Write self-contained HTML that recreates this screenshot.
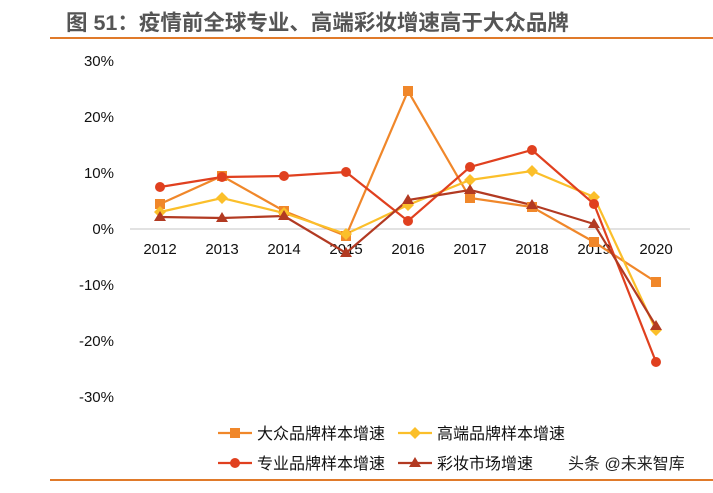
<!DOCTYPE html>
<html><head><meta charset="utf-8"><style>
body{margin:0;background:#fff;width:713px;height:488px;overflow:hidden;font-family:"Liberation Sans","Noto Sans CJK SC",sans-serif}
</style></head><body>
<svg width="713" height="488" viewBox="0 0 713 488" xmlns="http://www.w3.org/2000/svg" font-family="Liberation Sans, Noto Sans CJK SC, sans-serif">
<text x="66" y="30" font-size="21.5" font-weight="bold" fill="#555">图 51：疫情前全球专业、高端彩妆增速高于大众品牌</text>
<rect x="50" y="37" width="663" height="2" fill="#e07a2a"/>
<g font-size="15" fill="#111" text-anchor="end">
<text x="114" y="66">30%</text><text x="114" y="122">20%</text><text x="114" y="178">10%</text><text x="114" y="234">0%</text>
<text x="114" y="290">-10%</text><text x="114" y="346">-20%</text><text x="114" y="402">-30%</text>
</g>
<line x1="130" y1="229" x2="690" y2="229" stroke="#d0d0d0" stroke-width="1.2"/>
<g font-size="15" fill="#111" text-anchor="middle">
<text x="160" y="254">2012</text><text x="222" y="254">2013</text><text x="284" y="254">2014</text><text x="346" y="254">2015</text><text x="408" y="254">2016</text><text x="470" y="254">2017</text><text x="532" y="254">2018</text><text x="594" y="254">2019</text><text x="656" y="254">2020</text>
</g>
<g fill="none" stroke-width="2.2">
<polyline stroke="#f0872a" points="160,204 222,176 284,211 346,236 408,91 470,198 532,207 594,242 656,282"/>
<polyline stroke="#fbbf2a" points="160,212 222,198 284,213 346,234 408,205 470,180 532,171 594,197 656,330"/>
<polyline stroke="#e0401f" points="160,187 222,177 284,176 346,172 408,221 470,167 532,150 594,204 656,362"/>
<polyline stroke="#b23a22" points="160,217 222,218 284,216 346,253 408,200 470,190 532,205 594,224 656,326"/>
</g>
<g fill="#f0872a">
<rect x="155" y="199" width="10" height="10"/><rect x="217" y="171" width="10" height="10"/><rect x="279" y="206" width="10" height="10"/><rect x="341" y="231" width="10" height="10"/><rect x="403" y="86" width="10" height="10"/><rect x="465" y="193" width="10" height="10"/><rect x="527" y="202" width="10" height="10"/><rect x="589" y="237" width="10" height="10"/><rect x="651" y="277" width="10" height="10"/>
</g>
<g fill="#fbbf2a">
<path d="M160,206l6,6l-6,6l-6,-6z M222,192l6,6l-6,6l-6,-6z M284,207l6,6l-6,6l-6,-6z M346,228l6,6l-6,6l-6,-6z M408,199l6,6l-6,6l-6,-6z M470,174l6,6l-6,6l-6,-6z M532,165l6,6l-6,6l-6,-6z M594,191l6,6l-6,6l-6,-6z M656,324l6,6l-6,6l-6,-6z"/>
</g>
<g fill="#e0401f">
<circle cx="160" cy="187" r="5"/><circle cx="222" cy="177" r="5"/><circle cx="284" cy="176" r="5"/><circle cx="346" cy="172" r="5"/><circle cx="408" cy="221" r="5"/><circle cx="470" cy="167" r="5"/><circle cx="532" cy="150" r="5"/><circle cx="594" cy="204" r="5"/><circle cx="656" cy="362" r="5"/>
</g>
<g fill="#b23a22">
<path d="M160,211l6,10h-12z M222,212l6,10h-12z M284,210l6,10h-12z M346,247l6,10h-12z M408,194l6,10h-12z M470,184l6,10h-12z M532,199l6,10h-12z M594,218l6,10h-12z M656,320l6,10h-12z"/>
</g>
<g font-size="16" fill="#111">
<line x1="218" y1="433" x2="252" y2="433" stroke="#f0872a" stroke-width="2.2"/><rect x="230" y="428" width="10" height="10" fill="#f0872a"/>
<text x="257" y="439">大众品牌样本增速</text>
<line x1="398" y1="433" x2="432" y2="433" stroke="#fbbf2a" stroke-width="2.2"/><path d="M415,427l6,6l-6,6l-6,-6z" fill="#fbbf2a"/>
<text x="437" y="439">高端品牌样本增速</text>
<line x1="218" y1="463" x2="252" y2="463" stroke="#e0401f" stroke-width="2.2"/><circle cx="235" cy="463" r="5" fill="#e0401f"/>
<text x="257" y="469">专业品牌样本增速</text>
<line x1="398" y1="463" x2="432" y2="463" stroke="#b23a22" stroke-width="2.2"/><path d="M415,457l6,10h-12z" fill="#b23a22"/>
<text x="437" y="469">彩妆市场增速</text>
</g>
<text x="568" y="469" font-size="16" fill="#222">头条 @未来智库</text>
<rect x="50" y="479" width="663" height="2" fill="#e07a2a"/>
</svg>
</body></html>
